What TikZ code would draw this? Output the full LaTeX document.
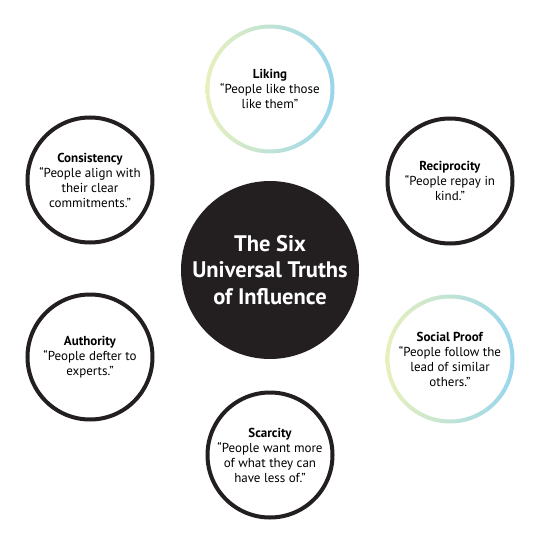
\documentclass[tikz,border=0pt]{standalone}
\usepackage{fontspec}
\setmainfont{PT Sans}
\usetikzlibrary{positioning}
\definecolor{inkblack}{HTML}{231F20}
\definecolor{ringyellow}{HTML}{E8F0BC}
\definecolor{ringblue}{HTML}{98D6EE}
\tikzset{
  truth/.style={circle, draw=inkblack, line width=4pt, fill=white, minimum size=125pt, inner sep=0pt, align=center, font=\fontsize{13}{15}\selectfont},
  softtruth/.style={truth, draw=none},
  hub/.style={circle, fill=inkblack, minimum size=178pt, inner sep=0pt, text=white, align=center, font=\fontsize{22.5}{26.5}\selectfont\bfseries}
}

\begin{document}
\begin{tikzpicture}[x=1pt,y=-1pt]
\useasboundingbox (0,0) rectangle (540,540);
% centre
\node[hub] (hub) at (270,270) {The Six\\Universal Truths\\of Influence};
% the six truths
\node[softtruth] (liking) at (270,89) {\textbf{Liking}\\“People like those\\like them”};
\shade[left color=ringyellow, right color=ringblue, even odd rule] (liking.center) circle (64.5pt) circle (60.5pt);
\node[truth] (reciprocity) at (450,181) {\textbf{Reciprocity}\\“People repay in\\kind.”};
\node[softtruth] (socialproof) at (450,359) {\textbf{Social Proof}\\“People follow the\\lead of similar\\others.”};
\shade[left color=ringyellow, right color=ringblue, even odd rule] (socialproof.center) circle (64.5pt) circle (60.5pt);
\node[truth] (scarcity) at (270,455) {\textbf{Scarcity}\\“People want more\\of what they can\\have less of.”};
\node[truth] (authority) at (90,357) {\textbf{Authority}\\“People defter to\\experts.”};
\node[truth] (consistency) at (90,180) {\textbf{Consistency}\\“People align with\\their clear\\commitments.”};
\end{tikzpicture}
\end{document}
